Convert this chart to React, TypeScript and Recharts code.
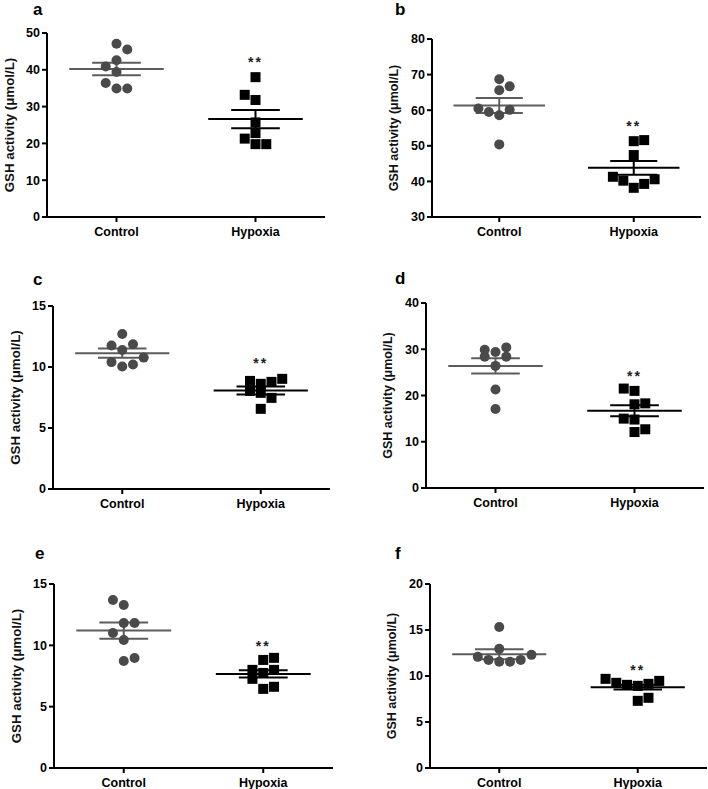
import React from "react";
import {
  ScatterChart,
  Scatter,
  XAxis,
  YAxis,
  ReferenceLine,
} from "recharts";

const groups = ["Control", "Hypoxia"];
const groupX = [1, 3];
const JIT = 0.155; // horizontal spread of one jitter step, in x units

// panel a
const ctrlA = [47.1, 45.5, 42.6, 40.9, 39.4, 36.4, 34.9, 34.9];
const ctrlJitA = [0, 1, 0, -1, 0, -1, 0, 1];
const hypA = [38.0, 33.2, 31.8, 25.7, 22.8, 21.3, 19.8, 19.8];
const hypJitA = [0, -1, 0, 0, 0, -1, 0, 1];
const meanA = [40.2, 26.6];
const semA = [1.7, 2.5];
const ticksA = [0, 10, 20, 30, 40, 50];

// panel b
const ctrlB = [68.7, 66.7, 65.6, 60.5, 60.1, 59.5, 58.6, 50.4];
const ctrlJitB = [0, 1, 0, -2, 1, -1, 0, 0];
const hypB = [51.3, 51.6, 47.4, 41.3, 40.2, 38.2, 39.3, 40.6];
const hypJitB = [0, 1, 0, -2, -1, 0, 1, 2];
const meanB = [61.3, 43.8];
const semB = [2.1, 1.9];
const ticksB = [30, 40, 50, 60, 70, 80];

// panel c
const ctrlC = [12.7, 11.76, 11.87, 11.4, 10.4, 10.77, 10.04, 10.2];
const ctrlJitC = [0, -1, 1, 0, -1, 2, 0, 1];
const hypC = [8.86, 8.62, 8.78, 9.03, 8.04, 7.88, 7.47, 6.57];
const hypJitC = [-1, 0, 1, 2, -1, 0, 1, 0];
const meanC = [11.13, 8.08];
const semC = [0.38, 0.33];
const ticksC = [0, 5, 10, 15];

// panel d
const ctrlD = [29.9, 29.4, 30.4, 28.4, 28.4, 26.4, 21.3, 17.1];
const ctrlJitD = [-1, 0, 1, -1, 1, 0, 0, 0];
const hypD = [21.5, 21.0, 18.1, 18.3, 15.0, 14.8, 12.1, 12.7];
const hypJitD = [-1, 0, 0, 1, -1, 0, 0, 1];
const meanD = [26.4, 16.7];
const semD = [1.65, 1.2];
const ticksD = [0, 10, 20, 30, 40];

// panel e
const ctrlE = [13.7, 13.29, 11.82, 11.82, 11.0, 10.44, 8.73, 8.97];
const ctrlJitE = [-1, 0, 0, 1, -1, 0, 0, 1];
const hypE = [8.81, 8.98, 8.0, 7.75, 8.0, 7.27, 6.45, 6.62];
const hypJitE = [0, 1, -1, 0, 1, -1, 0, 1];
const meanE = [11.2, 7.67];
const semE = [0.66, 0.3];
const ticksE = [0, 5, 10, 15];

// panel f
const ctrlF = [15.33, 12.95, 12.08, 11.75, 11.54, 11.54, 11.75, 12.3];
const ctrlJitF = [0, 0, -2, -1, 0, 1, 2, 3];
const hypF = [9.69, 9.26, 9.04, 8.93, 9.15, 9.47, 7.3, 7.63];
const hypJitF = [-3, -2, -1, 0, 1, 2, 0, 1];
const meanF = [12.37, 8.79];
const semF = [0.55, 0.25];
const ticksF = [0, 5, 10, 15, 20];

// "**" marks above the hypoxia group
const stars = [42.8, 56.3, 10.6, 24.8, 10.2, 11.0];

const FONT = "'Liberation Sans', Arial, sans-serif";
const CTRL_COLOR = "#4a4a4a";
const CTRL_LINE = "#5c5c5c";
const HYP_COLOR = "#000";

const Dot = (p: any) => <circle cx={p.cx} cy={p.cy} r={5} fill={CTRL_COLOR} />;
const Sq = (p: any) => (
  <rect x={p.cx - 5} y={p.cy - 5} width={10} height={10} fill={HYP_COLOR} />
);
const Star = (p: any) => (
  <text
    x={p.cx}
    y={p.cy + 8}
    textAnchor="middle"
    fontSize={14}
    fontWeight={700}
    fontFamily={FONT}
    letterSpacing={2}
    fill="#222"
  >
    **
  </text>
);

function YLabel({ viewBox, size }: any) {
  const cx = viewBox.x + 12;
  const cy = viewBox.y + viewBox.height / 2;
  return (
    <text
      x={cx}
      y={cy}
      transform={`rotate(-90, ${cx}, ${cy})`}
      textAnchor="middle"
      dominantBaseline="central"
      fontSize={size}
      fontWeight={700}
      fontFamily={FONT}
      fill="#111"
    >
      GSH activity (μmol/L)
    </text>
  );
}

interface PanelProps {
  letter: string;
  plot: { L: number; R: number; T: number; B: number };
  letterPos: [number, number];
  labelSize: number;
  ticks: number[];
  ctrl: number[];
  ctrlJit: number[];
  hyp: number[];
  hypJit: number[];
  mean: number[];
  sem: number[];
  star: number;
}

function Panel(props: PanelProps) {
  const { plot, ticks, mean, sem } = props;
  const axisW = 50;
  const top = 12;
  const xAxisH = 30;
  const width = plot.R - plot.L + axisW + 1;
  const height = plot.B - plot.T + top + xAxisH + 2;
  const ctrlData = props.ctrl.map((y, i) => ({ x: groupX[0] + props.ctrlJit[i] * JIT, y }));
  const hypData = props.hyp.map((y, i) => ({ x: groupX[1] + props.hypJit[i] * JIT, y }));
  const tickStyle = { fontSize: 12.5, fontWeight: 700, fill: "#000", fontFamily: FONT };

  return (
    <>
      <div
        style={{
          position: "absolute",
          left: props.letterPos[0],
          top: props.letterPos[1],
          fontFamily: FONT,
          fontWeight: 700,
          fontSize: 17,
          lineHeight: "17px",
          color: "#000",
        }}
      >
        {props.letter}
      </div>
      <div style={{ position: "absolute", left: plot.L - axisW, top: plot.T - top }}>
        <ScatterChart
          width={width}
          height={height}
          margin={{ top, right: 1, bottom: 2, left: 0 }}
        >
          <XAxis
            type="number"
            dataKey="x"
            domain={[0, 4]}
            ticks={groupX}
            tickFormatter={(v) => groups[groupX.indexOf(v)]}
            height={xAxisH}
            tick={tickStyle}
            tickSize={5}
            tickMargin={5}
            axisLine={{ stroke: "#000", strokeWidth: 2 }}
            tickLine={{ stroke: "#000", strokeWidth: 2 }}
            allowDataOverflow
          />
          <YAxis
            type="number"
            dataKey="y"
            domain={[ticks[0], ticks[ticks.length - 1]]}
            ticks={ticks}
            interval={0}
            width={axisW}
            tick={tickStyle}
            tickSize={5}
            tickMargin={2}
            axisLine={{ stroke: "#000", strokeWidth: 2 }}
            tickLine={{ stroke: "#000", strokeWidth: 2 }}
            label={<YLabel size={props.labelSize} />}
            allowDataOverflow
          />
          <Scatter data={ctrlData} shape={Dot} isAnimationActive={false} />
          <Scatter data={hypData} shape={Sq} isAnimationActive={false} />
          <Scatter
            data={[{ x: groupX[1], y: props.star }]}
            shape={Star}
            isAnimationActive={false}
          />
          {groupX.map((gx, g) => {
            const color = g === 0 ? CTRL_LINE : HYP_COLOR;
            const m = mean[g];
            const s = sem[g];
            return (
              <React.Fragment key={g}>
                <ReferenceLine
                  segment={[{ x: gx - 0.68, y: m }, { x: gx + 0.68, y: m }]}
                  stroke={color}
                  strokeWidth={2}
                />
                <ReferenceLine
                  segment={[{ x: gx - 0.35, y: m + s }, { x: gx + 0.35, y: m + s }]}
                  stroke={color}
                  strokeWidth={2}
                />
                <ReferenceLine
                  segment={[{ x: gx - 0.35, y: m - s }, { x: gx + 0.35, y: m - s }]}
                  stroke={color}
                  strokeWidth={2}
                />
                <ReferenceLine
                  segment={[{ x: gx, y: m - s }, { x: gx, y: m + s }]}
                  stroke={color}
                  strokeWidth={2}
                />
              </React.Fragment>
            );
          })}
        </ScatterChart>
      </div>
    </>
  );
}

export default function App() {
  return (
    <div
      style={{
        position: "absolute",
        left: 0,
        top: 0,
        width: 708,
        height: 789,
        overflow: "hidden",
        background: "#fff",
      }}
    >
      <Panel letter="a" plot={{ L: 47, R: 325, T: 33, B: 217 }} letterPos={[33, 1]} labelSize={13.3}
        ticks={ticksA} ctrl={ctrlA} ctrlJit={ctrlJitA} hyp={hypA} hypJit={hypJitA} mean={meanA} sem={semA} star={stars[0]} />
      <Panel letter="b" plot={{ L: 432, R: 701, T: 39, B: 217 }} letterPos={[395, 1]} labelSize={12.5}
        ticks={ticksB} ctrl={ctrlB} ctrlJit={ctrlJitB} hyp={hypB} hypJit={hypJitB} mean={meanB} sem={semB} star={stars[1]} />
      <Panel letter="c" plot={{ L: 53, R: 330, T: 306, B: 489 }} letterPos={[33, 271]} labelSize={13.3}
        ticks={ticksC} ctrl={ctrlC} ctrlJit={ctrlJitC} hyp={hypC} hypJit={hypJitC} mean={meanC} sem={semC} star={stars[2]} />
      <Panel letter="d" plot={{ L: 426, R: 704, T: 303, B: 488 }} letterPos={[395, 270]} labelSize={12.5}
        ticks={ticksD} ctrl={ctrlD} ctrlJit={ctrlJitD} hyp={hypD} hypJit={hypJitD} mean={meanD} sem={semD} star={stars[3]} />
      <Panel letter="e" plot={{ L: 54, R: 333, T: 584, B: 768 }} letterPos={[35, 545]} labelSize={13.3}
        ticks={ticksE} ctrl={ctrlE} ctrlJit={ctrlJitE} hyp={hypE} hypJit={hypJitE} mean={meanE} sem={semE} star={stars[4]} />
      <Panel letter="f" plot={{ L: 430, R: 707, T: 584, B: 768 }} letterPos={[395, 545]} labelSize={12.5}
        ticks={ticksF} ctrl={ctrlF} ctrlJit={ctrlJitF} hyp={hypF} hypJit={hypJitF} mean={meanF} sem={semF} star={stars[5]} />
    </div>
  );
}
